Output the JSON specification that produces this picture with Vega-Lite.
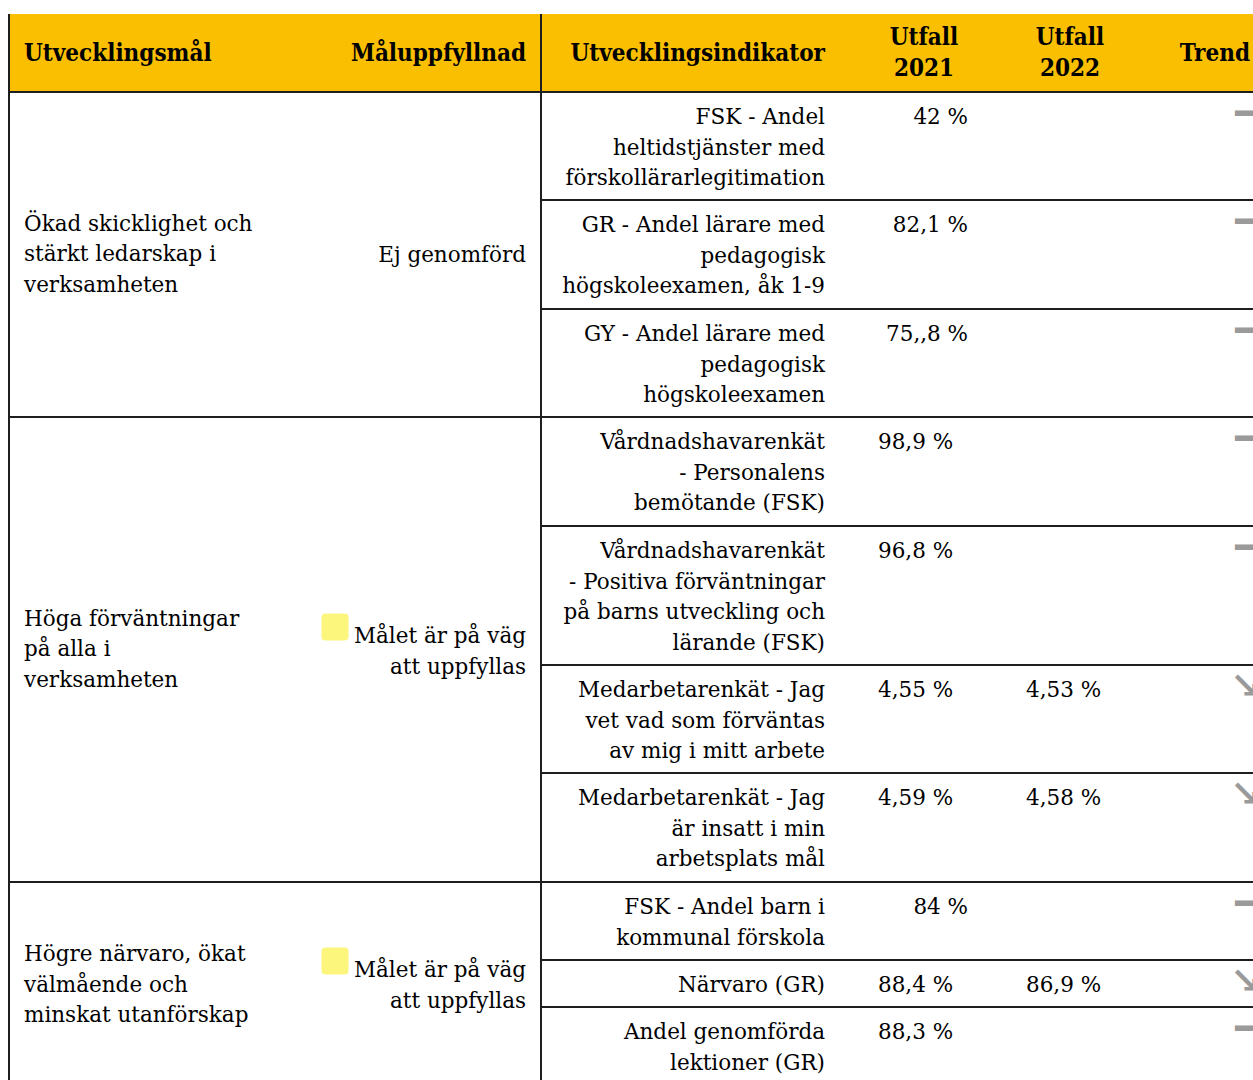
{
  "$schema": "https://vega.github.io/schema/vega-lite/v6.json",
  "width": 1253,
  "height": 1080,
  "padding": 0,
  "autosize": "none",
  "background": "white",
  "config": {"view": {"stroke": null}, "axis": {"disable": true}},
  "datasets": {
    "header": [
      {"col": 0, "label": "Utvecklingsmål"},
      {"col": 1, "label": "Måluppfyllnad"},
      {"col": 2, "label": "Utvecklingsindikator"},
      {"col": 3, "label": "Utfall\n2021"},
      {"col": 4, "label": "Utfall\n2022"},
      {"col": 5, "label": "Trend"}
    ],
    "groups": [
      {"group": 1, "firstRow": 1, "goal": "Ökad skicklighet och\nstärkt ledarskap i\nverksamheten", "status": "Ej genomförd", "achievement": "not_done"},
      {"group": 2, "firstRow": 4, "goal": "Höga förväntningar\npå alla i\nverksamheten", "status": "Målet är på väg\natt uppfyllas", "achievement": "on_track"},
      {"group": 3, "firstRow": 8, "goal": "Högre närvaro, ökat\nvälmående och\nminskat utanförskap", "status": "Målet är på väg\natt uppfyllas", "achievement": "on_track"}
    ],
    "rows": [
      {"row": 1, "group": 1, "indicator": "FSK - Andel\nheltidstjänster med\nförskollärarlegitimation", "u2021": "42 %", "u2022": null, "trend": "flat"},
      {"row": 2, "group": 1, "indicator": "GR - Andel lärare med\npedagogisk\nhögskoleexamen, åk 1-9", "u2021": "82,1 %", "u2022": null, "trend": "flat"},
      {"row": 3, "group": 1, "indicator": "GY - Andel lärare med\npedagogisk\nhögskoleexamen", "u2021": "75,,8 %", "u2022": null, "trend": "flat"},
      {"row": 4, "group": 2, "indicator": "Vårdnadshavarenkät\n- Personalens\nbemötande (FSK)", "u2021": "98,9 %", "u2022": null, "trend": "flat"},
      {"row": 5, "group": 2, "indicator": "Vårdnadshavarenkät\n- Positiva förväntningar\npå barns utveckling och\nlärande (FSK)", "u2021": "96,8 %", "u2022": null, "trend": "flat"},
      {"row": 6, "group": 2, "indicator": "Medarbetarenkät - Jag\nvet vad som förväntas\nav mig i mitt arbete", "u2021": "4,55 %", "u2022": "4,53 %", "trend": "down"},
      {"row": 7, "group": 2, "indicator": "Medarbetarenkät - Jag\när insatt i min\narbetsplats mål", "u2021": "4,59 %", "u2022": "4,58 %", "trend": "down"},
      {"row": 8, "group": 3, "indicator": "FSK - Andel barn i\nkommunal förskola", "u2021": "84 %", "u2022": null, "trend": "flat"},
      {"row": 9, "group": 3, "indicator": "Närvaro (GR)", "u2021": "88,4 %", "u2022": "86,9 %", "trend": "down"},
      {"row": 10, "group": 3, "indicator": "Andel genomförda\nlektioner (GR)", "u2021": "88,3 %", "u2022": null, "trend": "flat"}
    ]
  },
  "resolve": {"scale": {"y": "independent"}},
  "layer": [
    {
      "data": {"name": "header"},
      "transform": [{"filter": "datum.col === 0"}],
      "mark": {"type": "rect", "fill": "#FABF00"},
      "encoding": {
        "x": {"datum": 0, "type": "quantitative", "scale": {"domain": [0,1,2,3,4,5,6], "range": [9,335,541,840,1008,1132,1265], "zero": false, "nice": false}, "axis": null},
        "x2": {"datum": 6},
        "y": {"datum": 0, "type": "quantitative", "scale": {"domain": [0,1,2,3,4,5,6,7,8,9,10,11], "range": [14,92,200,309,417,526,665,773,882,960,1007,1088], "zero": false, "nice": false}, "axis": null},
        "y2": {"datum": 1}
      }
    },
    {
      "data": {"name": "rows"},
      "mark": {"type": "rule", "stroke": "#1e1e1e", "strokeWidth": 2},
      "encoding": {
        "x": {"datum": 2, "type": "quantitative", "scale": {"domain": [0,1,2,3,4,5,6], "range": [9,335,541,840,1008,1132,1265], "zero": false, "nice": false}, "axis": null},
        "x2": {"datum": 6},
        "y": {"field": "row", "type": "quantitative", "scale": {"domain": [0,1,2,3,4,5,6,7,8,9,10,11], "range": [14,92,200,309,417,526,665,773,882,960,1007,1088], "zero": false, "nice": false}, "axis": null}
      }
    },
    {
      "data": {"name": "groups"},
      "mark": {"type": "rule", "stroke": "#1e1e1e", "strokeWidth": 2},
      "encoding": {
        "x": {"datum": 0, "type": "quantitative", "scale": {"domain": [0,1,2,3,4,5,6], "range": [9,335,541,840,1008,1132,1265], "zero": false, "nice": false}, "axis": null},
        "x2": {"datum": 6},
        "y": {"field": "firstRow", "type": "quantitative", "scale": {"domain": [0,1,2,3,4,5,6,7,8,9,10,11], "range": [14,92,200,309,417,526,665,773,882,960,1007,1088], "zero": false, "nice": false}, "axis": null}
      }
    },
    {
      "data": {"name": "header"},
      "transform": [{"filter": "datum.col === 0 || datum.col === 2"}],
      "mark": {"type": "rule", "stroke": "#1e1e1e", "strokeWidth": 2},
      "encoding": {
        "x": {"field": "col", "type": "quantitative", "scale": {"domain": [0,1,2,3,4,5,6], "range": [9,335,541,840,1008,1132,1265], "zero": false, "nice": false}, "axis": null},
        "y": {"datum": 0, "type": "quantitative", "scale": {"domain": [0,1,2,3,4,5,6,7,8,9,10,11], "range": [14,92,200,309,417,526,665,773,882,960,1007,1088], "zero": false, "nice": false}, "axis": null},
        "y2": {"datum": 11}
      }
    },
    {
      "data": {"name": "header"},
      "transform": [{"filter": "datum.col === 0"}],
      "mark": {"type": "text", "align": "left", "baseline": "middle", "dx": 15, "dy": 1, "font": "DejaVu Serif Condensed", "fontWeight": "bold", "fontSize": 24, "lineHeight": 31, "lineBreak": "\n", "color": "#000"},
      "encoding": {
        "x": {"datum": 0, "type": "quantitative", "scale": {"domain": [0,1,2,3,4,5,6], "range": [9,335,541,840,1008,1132,1265], "zero": false, "nice": false}, "axis": null},
        "y": {"datum": 0.5, "type": "quantitative", "scale": {"domain": [0,1,2,3,4,5,6,7,8,9,10,11], "range": [14,92,200,309,417,526,665,773,882,960,1007,1088], "zero": false, "nice": false}, "axis": null},
        "text": {"field": "label", "type": "nominal"}
      }
    },
    {
      "data": {"name": "header"},
      "transform": [{"filter": "datum.col === 1"}],
      "mark": {"type": "text", "align": "right", "baseline": "middle", "dx": -15, "dy": 1, "font": "DejaVu Serif Condensed", "fontWeight": "bold", "fontSize": 24, "lineHeight": 31, "lineBreak": "\n", "color": "#000"},
      "encoding": {
        "x": {"datum": 2, "type": "quantitative", "scale": {"domain": [0,1,2,3,4,5,6], "range": [9,335,541,840,1008,1132,1265], "zero": false, "nice": false}, "axis": null},
        "y": {"datum": 0.5, "type": "quantitative", "scale": {"domain": [0,1,2,3,4,5,6,7,8,9,10,11], "range": [14,92,200,309,417,526,665,773,882,960,1007,1088], "zero": false, "nice": false}, "axis": null},
        "text": {"field": "label", "type": "nominal"}
      }
    },
    {
      "data": {"name": "header"},
      "transform": [{"filter": "datum.col === 2"}],
      "mark": {"type": "text", "align": "right", "baseline": "middle", "dx": -15, "dy": 1, "font": "DejaVu Serif Condensed", "fontWeight": "bold", "fontSize": 24, "lineHeight": 31, "lineBreak": "\n", "color": "#000"},
      "encoding": {
        "x": {"datum": 3, "type": "quantitative", "scale": {"domain": [0,1,2,3,4,5,6], "range": [9,335,541,840,1008,1132,1265], "zero": false, "nice": false}, "axis": null},
        "y": {"datum": 0.5, "type": "quantitative", "scale": {"domain": [0,1,2,3,4,5,6,7,8,9,10,11], "range": [14,92,200,309,417,526,665,773,882,960,1007,1088], "zero": false, "nice": false}, "axis": null},
        "text": {"field": "label", "type": "nominal"}
      }
    },
    {
      "data": {"name": "header"},
      "transform": [{"filter": "datum.col === 3"}],
      "mark": {"type": "text", "align": "center", "baseline": "middle", "dy": -15, "font": "DejaVu Serif Condensed", "fontWeight": "bold", "fontSize": 24, "lineHeight": 31, "lineBreak": "\n", "color": "#000"},
      "encoding": {
        "x": {"datum": 3.5, "type": "quantitative", "scale": {"domain": [0,1,2,3,4,5,6], "range": [9,335,541,840,1008,1132,1265], "zero": false, "nice": false}, "axis": null},
        "y": {"datum": 0.5, "type": "quantitative", "scale": {"domain": [0,1,2,3,4,5,6,7,8,9,10,11], "range": [14,92,200,309,417,526,665,773,882,960,1007,1088], "zero": false, "nice": false}, "axis": null},
        "text": {"field": "label", "type": "nominal"}
      }
    },
    {
      "data": {"name": "header"},
      "transform": [{"filter": "datum.col === 4"}],
      "mark": {"type": "text", "align": "center", "baseline": "middle", "dy": -15, "font": "DejaVu Serif Condensed", "fontWeight": "bold", "fontSize": 24, "lineHeight": 31, "lineBreak": "\n", "color": "#000"},
      "encoding": {
        "x": {"datum": 4.5, "type": "quantitative", "scale": {"domain": [0,1,2,3,4,5,6], "range": [9,335,541,840,1008,1132,1265], "zero": false, "nice": false}, "axis": null},
        "y": {"datum": 0.5, "type": "quantitative", "scale": {"domain": [0,1,2,3,4,5,6,7,8,9,10,11], "range": [14,92,200,309,417,526,665,773,882,960,1007,1088], "zero": false, "nice": false}, "axis": null},
        "text": {"field": "label", "type": "nominal"}
      }
    },
    {
      "data": {"name": "header"},
      "transform": [{"filter": "datum.col === 5"}],
      "mark": {"type": "text", "align": "right", "baseline": "middle", "dx": -15, "dy": 1, "font": "DejaVu Serif Condensed", "fontWeight": "bold", "fontSize": 24, "lineHeight": 31, "lineBreak": "\n", "color": "#000"},
      "encoding": {
        "x": {"datum": 6, "type": "quantitative", "scale": {"domain": [0,1,2,3,4,5,6], "range": [9,335,541,840,1008,1132,1265], "zero": false, "nice": false}, "axis": null},
        "y": {"datum": 0.5, "type": "quantitative", "scale": {"domain": [0,1,2,3,4,5,6,7,8,9,10,11], "range": [14,92,200,309,417,526,665,773,882,960,1007,1088], "zero": false, "nice": false}, "axis": null},
        "text": {"field": "label", "type": "nominal"}
      }
    },
    {
      "data": {"name": "groups"},
      "mark": {"type": "text", "align": "left", "baseline": "middle", "dx": 15, "dy": -30, "font": "DejaVu Serif", "fontSize": 21.5, "lineHeight": 30.5, "lineBreak": "\n", "color": "#000"},
      "encoding": {
        "x": {"datum": 0, "type": "quantitative", "scale": {"domain": [0,1,2,3,4,5,6], "range": [9,335,541,840,1008,1132,1265], "zero": false, "nice": false}, "axis": null},
        "y": {"field": "group", "type": "quantitative", "scale": {"domain": [1,2,3], "range": [254.5,649.5,985], "zero": false, "nice": false}, "axis": null},
        "text": {"field": "goal", "type": "nominal"}
      }
    },
    {
      "data": {"name": "groups"},
      "mark": {"type": "text", "align": "right", "baseline": "middle", "dx": -15, "font": "DejaVu Serif", "fontSize": 21.5, "lineHeight": 30.5, "lineBreak": "\n", "color": "#000"},
      "encoding": {
        "x": {"datum": 2, "type": "quantitative", "scale": {"domain": [0,1,2,3,4,5,6], "range": [9,335,541,840,1008,1132,1265], "zero": false, "nice": false}, "axis": null},
        "y": {"field": "group", "type": "quantitative", "scale": {"domain": [1,2,3], "range": [256,637,971], "zero": false, "nice": false}, "axis": null},
        "text": {"field": "status", "type": "nominal"}
      }
    },
    {
      "data": {"name": "groups"},
      "transform": [{"filter": "datum.achievement === 'on_track'"}],
      "mark": {"type": "point", "filled": true, "opacity": 1, "size": 729, "shape": "M -1 -0.7 Q -1 -1 -0.7 -1 L 0.7 -1 Q 1 -1 1 -0.7 L 1 0.7 Q 1 1 0.7 1 L -0.7 1 Q -1 1 -1 0.7 Z"},
      "encoding": {
        "x": {"datum": 1, "type": "quantitative", "scale": {"domain": [0,1,2,3,4,5,6], "range": [9,335,541,840,1008,1132,1265], "zero": false, "nice": false}, "axis": null},
        "y": {"field": "group", "type": "quantitative", "scale": {"domain": [1,2,3], "range": [232,627,961], "zero": false, "nice": false}, "axis": null},
        "color": {"field": "achievement", "type": "nominal", "scale": {"domain": ["on_track"], "range": ["#FCF67C"]}, "legend": null}
      }
    },
    {
      "data": {"name": "rows"},
      "mark": {"type": "text", "align": "right", "baseline": "top", "dx": -15, "dy": 15, "font": "DejaVu Serif", "fontSize": 21.5, "lineHeight": 30.5, "lineBreak": "\n", "color": "#000"},
      "encoding": {
        "x": {"datum": 3, "type": "quantitative", "scale": {"domain": [0,1,2,3,4,5,6], "range": [9,335,541,840,1008,1132,1265], "zero": false, "nice": false}, "axis": null},
        "y": {"field": "row", "type": "quantitative", "scale": {"domain": [0,1,2,3,4,5,6,7,8,9,10,11], "range": [14,92,200,309,417,526,665,773,882,960,1007,1088], "zero": false, "nice": false}, "axis": null},
        "text": {"field": "indicator", "type": "nominal"}
      }
    },
    {
      "data": {"name": "rows"},
      "transform": [{"filter": {"field": "row", "oneOf": [1, 2, 3, 8]}}],
      "mark": {"type": "text", "align": "right", "baseline": "top", "dx": -40, "dy": 15, "font": "DejaVu Serif", "fontSize": 21.5, "lineHeight": 30.5, "color": "#000"},
      "encoding": {
        "x": {"datum": 4, "type": "quantitative", "scale": {"domain": [0,1,2,3,4,5,6], "range": [9,335,541,840,1008,1132,1265], "zero": false, "nice": false}, "axis": null},
        "y": {"field": "row", "type": "quantitative", "scale": {"domain": [0,1,2,3,4,5,6,7,8,9,10,11], "range": [14,92,200,309,417,526,665,773,882,960,1007,1088], "zero": false, "nice": false}, "axis": null},
        "text": {"field": "u2021", "type": "nominal"}
      }
    },
    {
      "data": {"name": "rows"},
      "transform": [{"filter": {"not": {"field": "row", "oneOf": [1, 2, 3, 8]}}}],
      "mark": {"type": "text", "align": "left", "baseline": "top", "dx": 38, "dy": 15, "font": "DejaVu Serif", "fontSize": 21.5, "lineHeight": 30.5, "color": "#000"},
      "encoding": {
        "x": {"datum": 3, "type": "quantitative", "scale": {"domain": [0,1,2,3,4,5,6], "range": [9,335,541,840,1008,1132,1265], "zero": false, "nice": false}, "axis": null},
        "y": {"field": "row", "type": "quantitative", "scale": {"domain": [0,1,2,3,4,5,6,7,8,9,10,11], "range": [14,92,200,309,417,526,665,773,882,960,1007,1088], "zero": false, "nice": false}, "axis": null},
        "text": {"field": "u2021", "type": "nominal"}
      }
    },
    {
      "data": {"name": "rows"},
      "transform": [{"filter": "isValid(datum.u2022)"}],
      "mark": {"type": "text", "align": "left", "baseline": "top", "dx": 18, "dy": 15, "font": "DejaVu Serif", "fontSize": 21.5, "lineHeight": 30.5, "color": "#000"},
      "encoding": {
        "x": {"datum": 4, "type": "quantitative", "scale": {"domain": [0,1,2,3,4,5,6], "range": [9,335,541,840,1008,1132,1265], "zero": false, "nice": false}, "axis": null},
        "y": {"field": "row", "type": "quantitative", "scale": {"domain": [0,1,2,3,4,5,6,7,8,9,10,11], "range": [14,92,200,309,417,526,665,773,882,960,1007,1088], "zero": false, "nice": false}, "axis": null},
        "text": {"field": "u2022", "type": "nominal"}
      }
    },
    {
      "data": {"name": "rows"},
      "transform": [{"filter": "datum.trend === 'flat'"}],
      "mark": {"type": "text", "align": "left", "baseline": "middle", "dx": -30, "dy": 22, "font": "DejaVu Sans", "fontSize": 32, "color": "#9a9a9a", "text": "━"},
      "encoding": {
        "x": {"datum": 6, "type": "quantitative", "scale": {"domain": [0,1,2,3,4,5,6], "range": [9,335,541,840,1008,1132,1265], "zero": false, "nice": false}, "axis": null},
        "y": {"field": "row", "type": "quantitative", "scale": {"domain": [0,1,2,3,4,5,6,7,8,9,10,11], "range": [14,92,200,309,417,526,665,773,882,960,1007,1088], "zero": false, "nice": false}, "axis": null}
      }
    },
    {
      "data": {"name": "rows"},
      "transform": [{"filter": "datum.trend === 'down'"}],
      "mark": {"type": "text", "align": "left", "baseline": "middle", "dx": -35, "dy": 22, "font": "DejaVu Sans", "fontWeight": "bold", "fontSize": 36, "color": "#9a9a9a", "text": "↘"},
      "encoding": {
        "x": {"datum": 6, "type": "quantitative", "scale": {"domain": [0,1,2,3,4,5,6], "range": [9,335,541,840,1008,1132,1265], "zero": false, "nice": false}, "axis": null},
        "y": {"field": "row", "type": "quantitative", "scale": {"domain": [0,1,2,3,4,5,6,7,8,9,10,11], "range": [14,92,200,309,417,526,665,773,882,960,1007,1088], "zero": false, "nice": false}, "axis": null}
      }
    }
  ]
}
